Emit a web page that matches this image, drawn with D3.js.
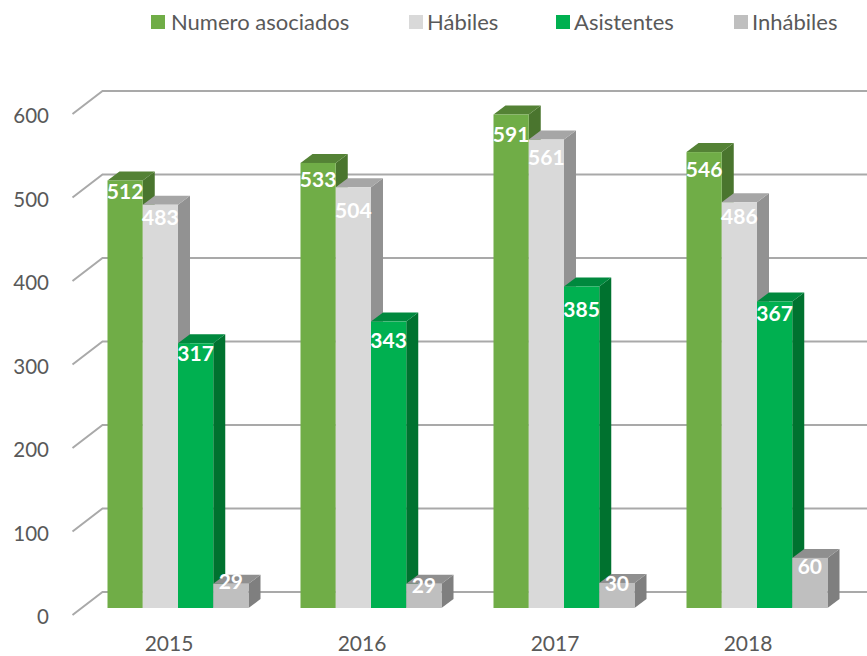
<!DOCTYPE html>
<html>
<head>
<meta charset="utf-8">
<script src="https://cdn.jsdelivr.net/npm/d3@7"></script>
<style>
  html, body { margin: 0; padding: 0; background: #fff; }
  text { font-family: Lato, "Open Sans", sans-serif; }
</style>
</head>
<body>
<div id="graph"></div>
<script>
// --------------------------------------
//  Data
// --------------------------------------

const years = ["2015", "2016", "2017", "2018"];
const seriesNames = ["Numero asociados", "Hábiles", "Asistentes", "Inhábiles"];
const numeroAsociados = [512, 533, 591, 546];
const habiles = [483, 504, 561, 486];
const asistentes = [317, 343, 385, 367];
const inhabiles = [29, 29, 30, 60];
const yTicks = [0, 100, 200, 300, 400, 500, 600];

const seriesValues = [numeroAsociados, habiles, asistentes, inhabiles];

// --------------------------------------
//  Canvas and scales
// --------------------------------------

const width = 867;
const height = 656;

const svg = d3.select("#graph")
  .append("svg")
  .attr("width", width)
  .attr("height", height)
  .style("display", "block");

const y = d3.scaleLinear().domain([0, 600]).range([608, 107]);
const x0 = d3.scaleBand().domain(years).range([72.5, 844.5]);
const x1 = d3.scaleBand().domain(seriesNames).range([35, 176]);

const front = d3.scaleOrdinal().domain(seriesNames).range(["#70ad47", "#d9d9d9", "#00b050", "#bfbfbf"]);
const topFace = d3.scaleOrdinal().domain(seriesNames).range(["#548235", "#a6a6a6", "#00893e", "#8f8f8f"]);
const sideFace = d3.scaleOrdinal().domain(seriesNames).range(["#4a752e", "#929292", "#00722f", "#7f7f7f"]);

// depth of the bars and of the floor
const barDx = 12, barDy = -9;
const wallDx = 30, wallBack = -16, wallFront = 7;

// labels were hand placed in the original, px below the top of each bar
const labelNudge = [
  [11, 17, 20, 18],
  [13, 23, 18, 14],
  [10, 19, 23, 12],
  [-2, 2, 1, 9]
];

// --------------------------------------
//  Gridlines
// --------------------------------------

svg.append("g")
  .selectAll("path")
  .data(yTicks)
  .join("path")
  .attr("d", d => {
    const v = y(d);
    return `M${x0.range()[0]},${v + wallFront}L${x0.range()[0] + wallDx},${v + wallBack}L${width},${v + wallBack}`;
  })
  .attr("fill", "none")
  .attr("stroke", "#a9a9a9")
  .attr("stroke-width", 2);

// --------------------------------------
//  Axes
// --------------------------------------

const yAxis = svg.append("g")
  .attr("transform", `translate(49,${wallFront + 2})`)
  .call(d3.axisLeft(y).tickValues(yTicks).tickSize(0).tickPadding(0));
yAxis.select(".domain").remove();
yAxis.selectAll("text")
  .attr("font-size", 20.5)
  .attr("fill", "#595959");

const xAxis = svg.append("g")
  .attr("transform", "translate(0,636)")
  .call(d3.axisBottom(x0).tickSize(0).tickPadding(0));
xAxis.select(".domain").remove();
xAxis.selectAll("text")
  .attr("font-size", 21)
  .attr("fill", "#595959");

// --------------------------------------
//  Bars
// --------------------------------------

const rows = [];
years.forEach((year, i) => {
  seriesNames.forEach((name, s) => {
    rows.push({ year, name, value: seriesValues[s][i], nudge: labelNudge[s][i] });
  });
});

const bar = svg.append("g")
  .selectAll("g")
  .data(rows)
  .join("g")
  .attr("transform", d => `translate(${x0(d.year) + x1(d.name)},0)`);

const bw = x1.bandwidth();

bar.append("path")
  .attr("d", d => `M${bw},${y(d.value)}l${barDx},${barDy}V${y(0) + barDy}l${-barDx},${-barDy}Z`)
  .attr("fill", d => sideFace(d.name));

bar.append("path")
  .attr("d", d => `M0,${y(d.value)}l${barDx},${barDy}h${bw}l${-barDx},${-barDy}Z`)
  .attr("fill", d => topFace(d.name));

bar.append("rect")
  .attr("y", d => y(d.value))
  .attr("width", bw)
  .attr("height", d => y(0) - y(d.value))
  .attr("fill", d => front(d.name));

bar.append("text")
  .attr("x", bw / 2)
  .attr("y", d => y(d.value) + d.nudge)
  .attr("dy", "0.35em")
  .attr("text-anchor", "middle")
  .attr("font-size", 21)
  .attr("font-weight", 700)
  .attr("fill", "#fff")
  .text(d => d.value);

// --------------------------------------
//  Legend
// --------------------------------------

const legendX = d3.scaleOrdinal().domain(seriesNames).range([151, 409, 556, 734]);

const legend = svg.append("g")
  .selectAll("g")
  .data(seriesNames)
  .join("g")
  .attr("transform", d => `translate(${legendX(d)},15)`);

legend.append("rect")
  .attr("width", 14)
  .attr("height", 14)
  .attr("fill", d => front(d));

legend.append("text")
  .attr("x", d => (d === seriesNames[0] ? 20 : 18))
  .attr("y", 7)
  .attr("dy", "0.35em")
  .attr("font-size", 22)
  .attr("fill", "#595959")
  .text(d => d);
</script>
</body>
</html>
